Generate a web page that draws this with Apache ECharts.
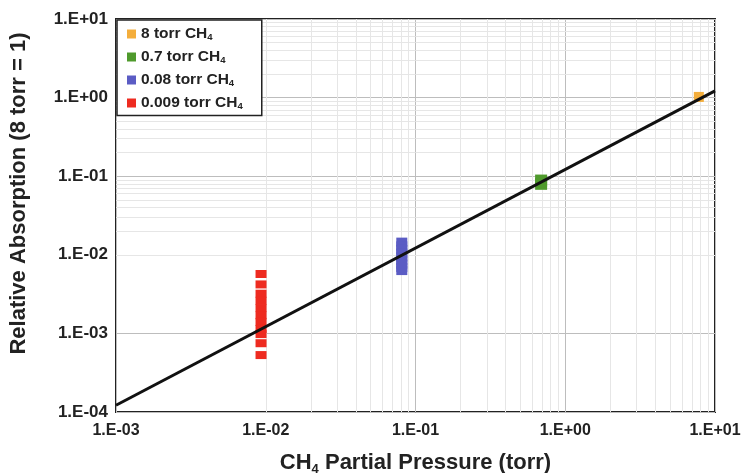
<!DOCTYPE html>
<html>
<head>
<meta charset="utf-8">
<script src="https://cdn.jsdelivr.net/npm/echarts@6/dist/echarts.min.js"></script>
<style>
  html, body { margin: 0; padding: 0; background: #fff; }
  #chart { width: 745px; height: 473px; }
</style>
</head>
<body>
<div id="chart"></div>
<script>
// legend names (CH4 written with a subscript through rich text)
const seriesNames = ['8 torr', '0.7 torr', '0.08 torr', '0.009 torr'];
const seriesColors = ['#f4ae3c', '#4f9a2c', '#5b5cc4', '#ee2b20'];

// pressures (torr) and relative absorption
const orangeX = [7.8];
const orangeY = [1.02];
const greenX = [0.69, 0.69];
const greenY = [0.088, 0.080];
const blueX = [0.081, 0.081, 0.081, 0.081, 0.081, 0.081, 0.081, 0.081, 0.081];
const blueY = [0.0145, 0.013, 0.0117, 0.0105, 0.0094, 0.0084, 0.0076, 0.0069, 0.0063];
const redX = [0.0093, 0.0093, 0.0093, 0.0093, 0.0093, 0.0093, 0.0093, 0.0093, 0.0093, 0.0093, 0.0093];
const redY = [0.0057, 0.0042, 0.0032, 0.0026, 0.0021, 0.0017, 0.0014, 0.00114, 0.00098, 0.00075, 0.00053];

// fitted line endpoints
const fitX = [0.001, 10];
const fitY = [0.000122, 1.22];

// axis ranges (decades)
const xDecades = [-3, -2, -1, 0];
const yDecades = [-4, -3, -2, -1, 0];

const FONT = '"Liberation Sans", Arial, sans-serif';

function zip(xs, ys) { return xs.map((x, i) => [x, ys[i]]); }

function sciLabel(v) {
  const e = Math.round(Math.log10(v));
  const s = Math.abs(e) < 10 ? '0' + Math.abs(e) : '' + Math.abs(e);
  return '1.E' + (e < 0 ? '-' : '+') + s;
}

// minor grid lines at 2..9 x 10^d
const minorLines = [];
xDecades.forEach(d => { for (let k = 2; k <= 9; k++) minorLines.push({ xAxis: k * Math.pow(10, d) }); });
yDecades.forEach(d => { for (let k = 2; k <= 9; k++) minorLines.push({ yAxis: k * Math.pow(10, d) }); });

const chart = echarts.init(document.getElementById('chart'));

const pointSets = [zip(orangeX, orangeY), zip(greenX, greenY), zip(blueX, blueY), zip(redX, redY)];
const sizes = [[10, 10], [12, 12], [11, 9], [11, 8]];

const scatterSeries = seriesNames.map((name, i) => ({
  name: name,
  type: 'scatter',
  symbol: 'rect',
  symbolSize: sizes[i],
  itemStyle: { color: seriesColors[i], opacity: 1 },
  z: 3,
  data: pointSets[i]
}));

chart.setOption({
  backgroundColor: '#fff',
  animation: false,
  textStyle: { fontFamily: FONT },
  grid: {
    left: 116, right: 30, top: 19, bottom: 61,
    outerBoundsMode: 'none',
    containLabel: false,
    show: true, borderColor: '#222', borderWidth: 2, backgroundColor: 'transparent'
  },
  legend: {
    data: seriesNames.map(n => ({ name: n, icon: 'rect' })),
    orient: 'vertical',
    left: 117, top: 20,
    z: 10,
    backgroundColor: '#fff',
    borderColor: '#222',
    borderWidth: 1.5,
    borderRadius: 0,
    padding: [6, 19, 4, 10],
    itemWidth: 9, itemHeight: 9, itemGap: 6.5,
    itemTextGap: 6,
    formatter: n => '{a|' + n + ' CH}{s|4}',
    textStyle: {
      rich: {
        a: { fontFamily: FONT, fontWeight: 'bold', fontSize: 15.5, color: '#222', lineHeight: 17 },
        s: { fontFamily: FONT, fontWeight: 'bold', fontSize: 9.5, color: '#222', verticalAlign: 'bottom', lineHeight: 12 }
      }
    }
  },
  xAxis: {
    type: 'log', logBase: 10, min: 0.001, max: 10,
    name: '{a|CH}{s|4}{a| Partial Pressure (torr)}',
    nameLocation: 'middle', nameGap: 38,
    nameTextStyle: {
      rich: {
        a: { fontFamily: FONT, fontWeight: 'bold', fontSize: 22, color: '#222', lineHeight: 26 },
        s: { fontFamily: FONT, fontWeight: 'bold', fontSize: 13, color: '#222', verticalAlign: 'bottom', lineHeight: 18 }
      }
    },
    axisLine: { show: false },
    axisTick: { show: false },
    axisLabel: { formatter: sciLabel, fontFamily: FONT, fontWeight: 'bold', fontSize: 16, color: '#222', margin: 11 },
    splitLine: { show: true, lineStyle: { color: '#bdbdbd', width: 1 } }
  },
  yAxis: {
    type: 'log', logBase: 10, min: 0.0001, max: 10,
    name: 'Relative Absorption (8 torr = 1)',
    nameLocation: 'middle', nameGap: 86,
    nameTextStyle: { fontFamily: FONT, fontWeight: 'bold', fontSize: 22, color: '#222', padding: [0, 0, 0, 44] },
    axisLine: { show: false },
    axisTick: { show: false },
    axisLabel: { formatter: sciLabel, fontFamily: FONT, fontWeight: 'bold', fontSize: 17, color: '#222', margin: 8 },
    splitLine: { show: true, lineStyle: { color: '#bdbdbd', width: 1 } }
  },
  series: [
    {
      name: 'minor grid',
      type: 'line',
      data: [],
      silent: true,
      z: 1,
      markLine: {
        silent: true,
        z: 1,
        symbol: ['none', 'none'],
        label: { show: false },
        emphasis: { disabled: true },
        lineStyle: { color: '#e6e6e6', width: 1, type: 'solid' },
        data: minorLines
      }
    },
    ...scatterSeries,
    {
      name: 'fit',
      type: 'line',
      data: zip(fitX, fitY),
      symbol: 'none',
      lineStyle: { color: '#111', width: 3 },
      z: 5
    }
  ]
});
</script>
</body>
</html>
